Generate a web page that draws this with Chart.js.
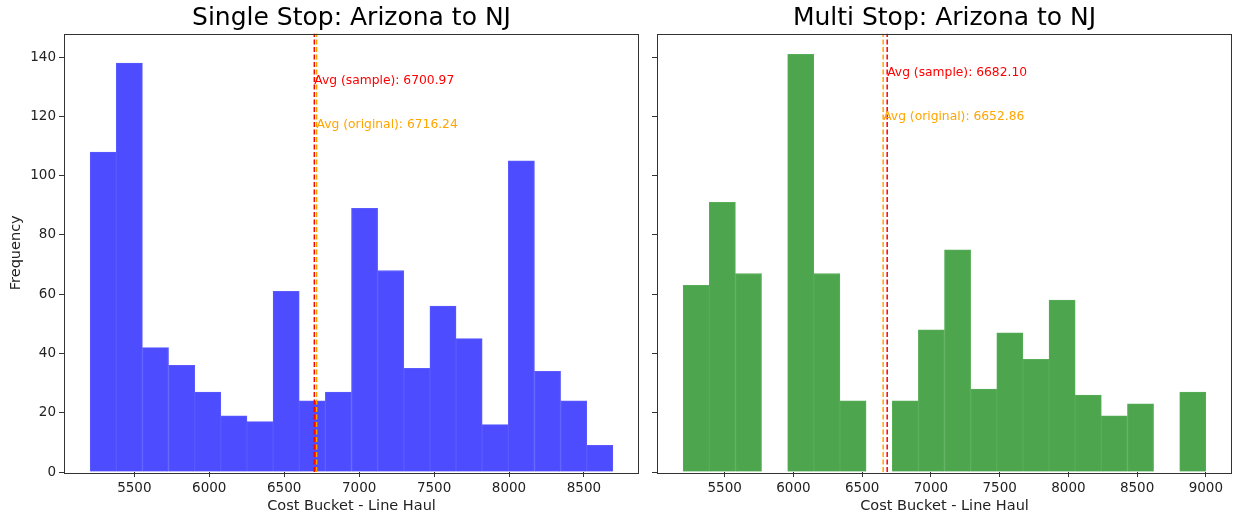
<!DOCTYPE html>
<html>
<head>
<meta charset="utf-8">
<script src="https://cdn.jsdelivr.net/npm/chart.js@4/dist/chart.umd.min.js"></script>
<style>
  html, body { margin: 0; padding: 0; background: #fff; }
  #wrap { position: relative; width: 1233px; height: 519px; }
  #single { position: absolute; left: 0; top: 0; }
  #multi { position: absolute; left: 645px; top: 0; }
</style>
</head>
<body>
<div id="wrap">
  <canvas id="single" width="645" height="519"></canvas>
  <canvas id="multi" width="588" height="519"></canvas>
</div>
<script>
// histogram counts (20 bins per panel)
let singleCounts = [108, 138, 42, 36, 27, 19, 17, 61, 24, 27, 89, 68, 35, 56, 45, 16, 105, 34, 24, 9]
let singleRange = [5205, 8693]   // first bin start, last bin end
let singleAvg = [6700.97, 6716.24]  // sample, original
let singleXTicks = [5500, 6000, 6500, 7000, 7500, 8000, 8500]

let multiCounts = [63, 91, 67, 0, 141, 67, 24, 0, 24, 48, 75, 28, 47, 38, 58, 26, 19, 23, 0, 27]
let multiRange = [5198, 9000]
let multiAvg = [6682.10, 6652.86]
let multiXTicks = [5500, 6000, 6500, 7000, 7500, 8000, 8500, 9000]

let yTicks = [0, 20, 40, 60, 80, 100, 120, 140]
let yMax = 148

let avgNames = ['Avg (sample)', 'Avg (original)']
let avgColors = ['#ff0000', '#ffa500']
let singleLabelY = [132.2, 117.3]
let multiLabelY = [134.9, 120.0]

const FONT = 'DejaVu Sans'

// box round the plot area, like matplotlib spines
const framePlugin = {
    id: 'frame',
    afterDatasetsDraw(chart) {
        let a = chart.chartArea
        let ctx = chart.ctx
        ctx.save()
        ctx.strokeStyle = '#333'
        ctx.lineWidth = 1
        ctx.strokeRect(Math.round(a.left) + 0.5, Math.round(a.top) + 0.5,
            Math.round(a.right - a.left) - 1, Math.round(a.bottom - a.top))
        ctx.restore()
    }
}

// "Avg (...)" texts placed next to the dashed lines
const avgTextPlugin = {
    id: 'avgText',
    afterDatasetsDraw(chart, args, opts) {
        let ctx = chart.ctx
        let xs = chart.scales.x, ys = chart.scales.y
        ctx.save()
        ctx.font = '12.3px "' + FONT + '"'
        ctx.textBaseline = 'middle'
        ctx.textAlign = 'left'
        opts.values.forEach(function(v, i) {
            ctx.fillStyle = avgColors[i]
            ctx.fillText(avgNames[i] + ': ' + v.toFixed(2), xs.getPixelForValue(v), ys.getPixelForValue(opts.labelY[i]))
        })
        ctx.restore()
    }
}

function makeChart(id, title, counts, range, avgs, labelY, xTicks, barColor, edgeColor, showY, yWidth, padRight) {
    let binW = (range[1] - range[0]) / counts.length
    let span = range[1] - range[0]
    let bars = counts.map(function(c, i) {
        return {x: range[0] + (i + 0.5) * binW, y: c}
    })
    let lines = avgs.map(function(v, i) {
        return {
            type: 'line',
            data: [{x: v, y: 0}, {x: v, y: yMax}],
            borderColor: avgColors[i],
            borderWidth: 1.5,
            borderDash: [5, 2.5],
            pointRadius: 0,
            fill: false,
            order: i
        }
    })
    let ctx = document.getElementById(id).getContext('2d')
    return new Chart(ctx, {
        type: 'bar',
        data: {
            datasets: [{
                data: bars,
                backgroundColor: barColor,
                borderColor: edgeColor,
                borderWidth: 1,
                barPercentage: 1,
                categoryPercentage: 1,
                order: 5
            }].concat(lines)
        },
        options: {
            responsive: false,
            animation: false,
            layout: {padding: {top: 0, right: padRight, bottom: 0, left: 0}},
            plugins: {
                legend: {display: false},
                tooltip: {enabled: false},
                title: {
                    display: true,
                    text: title,
                    fullSize: false,
                    color: '#000',
                    font: {family: FONT, size: 25, weight: 'normal'},
                    padding: {top: 3, bottom: 0.5}
                },
                avgText: {values: avgs, labelY: labelY}
            },
            scales: {
                x: {
                    type: 'linear',
                    offset: false,
                    min: range[0] - span * 0.05,
                    max: range[1] + span * 0.05,
                    border: {display: false},
                    grid: {display: true, offset: false, drawOnChartArea: false, drawTicks: true, tickLength: 5, color: '#333'},
                    afterBuildTicks: function(s) {
                        s.ticks = xTicks.map(function(v) { return {value: v} })
                    },
                    ticks: {
                        autoSkip: false,
                        maxRotation: 0,
                        padding: 3,
                        color: '#222',
                        font: {family: FONT, size: 13.5},
                        callback: function(v) { return String(v) }
                    },
                    title: {
                        display: true,
                        text: 'Cost Bucket - Line Haul',
                        color: '#222',
                        font: {family: FONT, size: 14.5},
                        padding: {top: 4, bottom: 4}
                    },
                    afterFit: function(s) { s.height = 47 }
                },
                y: {
                    min: 0,
                    max: yMax,
                    border: {display: false},
                    grid: {display: true, drawOnChartArea: false, drawTicks: true, tickLength: 5, color: '#333'},
                    afterBuildTicks: function(s) {
                        s.ticks = yTicks.map(function(v) { return {value: v} })
                    },
                    ticks: {
                        display: showY,
                        padding: 3,
                        color: '#222',
                        font: {family: FONT, size: 13.5}
                    },
                    title: {
                        display: showY,
                        text: 'Frequency',
                        color: '#222',
                        font: {family: FONT, size: 14.5},
                        padding: {top: 8, bottom: 0}
                    },
                    afterFit: function(s) { s.width = yWidth }
                }
            }
        },
        plugins: [framePlugin, avgTextPlugin]
    })
}

makeChart('single', 'Single Stop: Arizona to NJ', singleCounts, singleRange, singleAvg, singleLabelY, singleXTicks,
    '#4d4dff', '#5a5aff', true, 64, 6)
makeChart('multi', 'Multi Stop: Arizona to NJ', multiCounts, multiRange, multiAvg, multiLabelY, multiXTicks,
    '#4da64d', '#58ad58', false, 12, 1)
</script>
</body>
</html>
